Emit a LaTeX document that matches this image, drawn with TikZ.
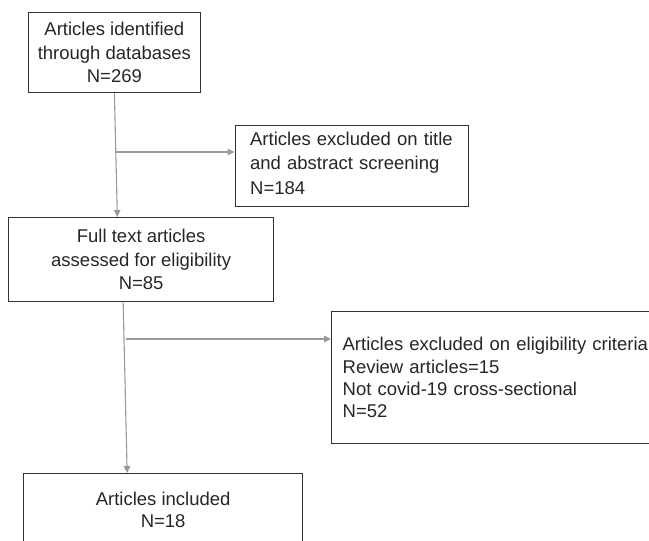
\documentclass[tikz,border=0pt]{standalone}
\usepackage{fontspec}
\setmainfont{Liberation Sans}
\usetikzlibrary{arrows.meta}
\definecolor{txt}{HTML}{262626}
\definecolor{edge}{HTML}{333333}
\definecolor{connc}{HTML}{9A9A9A}
\begin{document}
\begin{tikzpicture}[x=1pt,y=-1pt,
  box/.style={draw=edge, line width=1.3pt, text=txt, font=\fontsize{18.5}{23.5}\selectfont, inner sep=0pt, anchor=north west},
  conn/.style={draw=connc, line width=1.1pt, -{Triangle[length=7pt,width=6.5pt]}}]
\useasboundingbox (0,0) rectangle (649,541);
\clip (0,0) rectangle (649,541);
\node[box, minimum width=172.5pt, minimum height=80pt, align=center] (b1) at (27.5,12) {Articles identified\\through databases\\N=269};
\node[box, inner xsep=15pt, text width=203.5pt, minimum height=81pt, align=left, font=\fontsize{18.5}{24.5}\selectfont] (b2) at (234.5,125) {Articles excluded on title\\and abstract screening\\N=184\rule[-6pt]{0pt}{0pt}};
\node[box, minimum width=265pt, minimum height=84pt, align=center] (b3) at (8,217) {Full text articles\\assessed for eligibility\\N=85};
\node[box, inner xsep=11pt, text width=347pt, minimum height=132pt, align=left, font=\fontsize{18.5}{22.3}\selectfont] (b4) at (331,311) {Articles excluded on eligibility criteria\\Review articles=15\\Not covid-19 cross-sectional\\N=52};
\node[box, minimum width=279pt, minimum height=72pt, align=center, font=\fontsize{18.5}{22}\selectfont] (b5) at (23,473) {Articles included\\N=18};
\coordinate (j1) at (115,152);
\coordinate (j2) at (126,339);
\draw[conn] (b1.south) -- ([xshift=-23.8pt]b3.north);
\draw[conn] (j1) -- (j1 -| b2.west);
\draw[conn] ([xshift=-18pt]b3.south) -- ([xshift=-36pt]b5.north);
\draw[conn] (j2) -- (j2 -| b4.west);
\end{tikzpicture}
\end{document}
